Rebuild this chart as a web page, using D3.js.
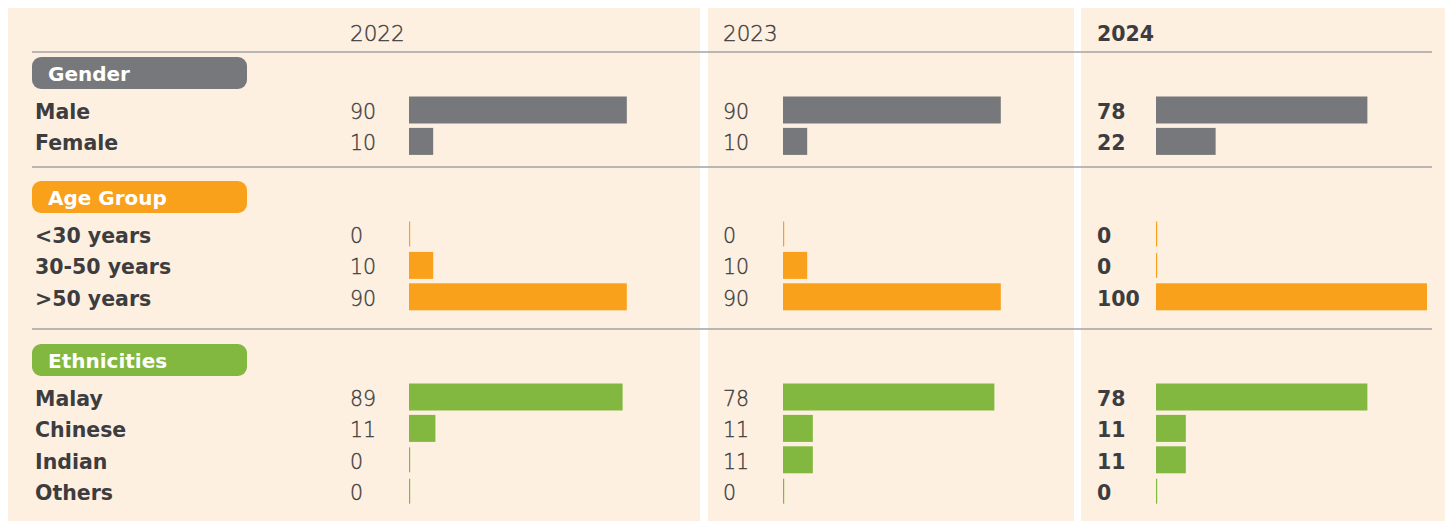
<!DOCTYPE html>
<html>
<head>
<meta charset="utf-8">
<script src="https://cdn.jsdelivr.net/npm/d3@7"></script>
<style>
  html, body { margin: 0; padding: 0; background: #ffffff; }
  svg { display: block; }
  text { font-family: "DejaVu Sans", sans-serif; }
  text.light { stroke: #3d3d40; stroke-width: 0.35px; }
</style>
</head>
<body>
<svg id="chart" width="1452" height="522"></svg>
<script>
// Board profile: composition by gender, age group and ethnicity (%)
const years = ["2022", "2023", "2024"];
const groups = ["Gender", "Age Group", "Ethnicities"];
const categories = [
  ["Male", "Female"],
  ["<30 years", "30-50 years", ">50 years"],
  ["Malay", "Chinese", "Indian", "Others"]
];
const values2022 = [[90, 10], [0, 10, 90], [89, 11, 0, 0]];
const values2023 = [[90, 10], [0, 10, 90], [78, 11, 11, 0]];
const values2024 = [[78, 22], [0, 0, 100], [78, 11, 11, 0]];
const seriesValues = [values2022, values2023, values2024];
const groupColors = ["#77787b", "#f9a11b", "#82b840"];

// layout
const W = 1452, H = 522;
const panels = [
  { x0: 8, x1: 700, valueX: 350, barX: 409 },
  { x0: 708, x1: 1074, valueX: 723, barX: 783 },
  { x0: 1081, x1: 1445, valueX: 1097, barX: 1156 }
];
// pixel length of a 100% bar, per year (rows) and group (columns)
const fullLength = [
  [242, 242, 240],
  [242, 242, 271],
  [271, 271, 271]
];
const currentYear = 2; // latest year is emphasised
const panelTop = 8, panelBottom = 521;
const ruleX0 = 32, ruleX1 = 1432;
const rulesY = [52, 167, 329];
const pillTops = [57, 181, 344];
const pillX = 32, pillW = 215, pillH = 32;
const rowOffset = 39.5, rowPitch = 31.4, barH = 27;
const textColor = "#3d3d40";
const labelSize = 20.5;

const svg = d3.select("#chart");

// panel backgrounds
svg.selectAll("rect.panel")
  .data(panels)
  .join("rect")
  .attr("class", "panel")
  .attr("x", d => d.x0)
  .attr("y", panelTop)
  .attr("width", d => d.x1 - d.x0)
  .attr("height", panelBottom - panelTop)
  .attr("fill", "#fef0e1");

// separator rules
svg.selectAll("line.rule")
  .data(rulesY)
  .join("line")
  .attr("class", "rule")
  .attr("x1", ruleX0).attr("x2", ruleX1)
  .attr("y1", d => d).attr("y2", d => d)
  .attr("stroke", "#a3a3a5")
  .attr("stroke-width", 1.5);

// year headers
svg.selectAll("text.year")
  .data(years)
  .join("text")
  .attr("class", (d, i) => i === currentYear ? "year" : "year light")
  .attr("x", (d, i) => panels[i].valueX)
  .attr("y", 41)
  .attr("font-size", (d, i) => i === currentYear ? 20.5 : 21.5)
  .attr("font-weight", (d, i) => i === currentYear ? 700 : 200)
  .attr("fill", textColor)
  .text(d => d);

// a band scale positions rows within each group
const rowY = (gi, ri) => {
  const n = categories[gi].length;
  const top = pillTops[gi] + rowOffset;
  const y = d3.scaleBand()
    .domain(d3.range(n))
    .range([top, top + (n - 1) * rowPitch + barH])
    .paddingInner((rowPitch - barH) / rowPitch)
    .paddingOuter(0)
    .align(0);
  return y(ri);
};

groups.forEach((g, gi) => {
  const gEl = svg.append("g").attr("class", "group");

  // group pill
  gEl.append("rect")
    .attr("x", pillX).attr("y", pillTops[gi])
    .attr("width", pillW).attr("height", pillH)
    .attr("rx", 9).attr("ry", 9)
    .attr("fill", groupColors[gi]);
  gEl.append("text")
    .attr("x", 48).attr("y", pillTops[gi] + 24)
    .attr("font-size", 20).attr("font-weight", 700)
    .attr("fill", "#ffffff")
    .text(g);

  // category labels
  gEl.selectAll("text.cat")
    .data(categories[gi])
    .join("text")
    .attr("class", "cat")
    .attr("x", 35)
    .attr("y", (d, ri) => rowY(gi, ri) + barH / 2 + 9)
    .attr("font-size", labelSize).attr("font-weight", 700)
    .attr("fill", textColor)
    .text(d => d);

  // bars and values per year
  panels.forEach((p, yi) => {
    const x = d3.scaleLinear().domain([0, 100]).range([p.barX, p.barX + fullLength[yi][gi]]);
    const vals = seriesValues[yi][gi];
    const bold = yi === currentYear;

    gEl.selectAll(`rect.bar-${yi}`)
      .data(vals)
      .join("rect")
      .attr("class", `bar-${yi}`)
      .attr("x", x(0))
      .attr("y", (d, ri) => rowY(gi, ri) + (d === 0 ? 1 : 0))
      .attr("width", d => Math.max(x(d) - x(0), 1.2))
      .attr("height", d => d === 0 ? barH - 2 : barH)
      .attr("fill", groupColors[gi]);

    gEl.selectAll(`text.val-${yi}`)
      .data(vals)
      .join("text")
      .attr("class", bold ? `val-${yi}` : `val-${yi} light`)
      .attr("x", p.valueX)
      .attr("y", (d, ri) => rowY(gi, ri) + barH / 2 + 9)
      .attr("font-size", 20.5)
      .attr("font-weight", bold ? 700 : 200)
      .attr("fill", textColor)
      .text(d => d3.format("d")(d));
  });
});
</script>
</body>
</html>
